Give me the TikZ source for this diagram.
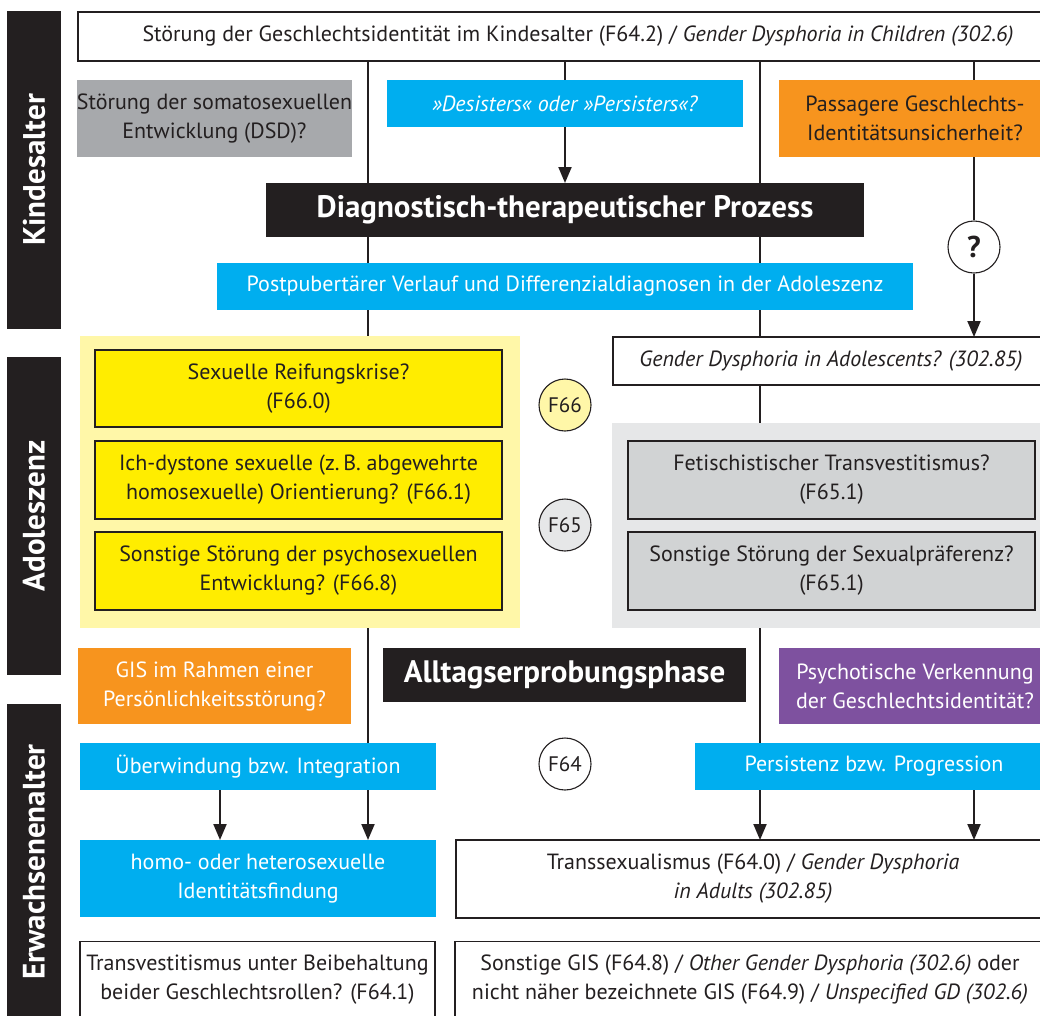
\documentclass[tikz,border=0pt]{standalone}
\usepackage{fontspec}
\setmainfont{PT Sans}
\usetikzlibrary{arrows.meta}
\definecolor{dk}{HTML}{231F20}
\definecolor{cy}{HTML}{00AEEF}
\definecolor{og}{HTML}{F7941E}
\definecolor{gr}{HTML}{A7A9AC}
\definecolor{pu}{HTML}{7E519F}
\definecolor{ye}{HTML}{FFED00}
\definecolor{ylt}{HTML}{FFF7A8}
\definecolor{glt}{HTML}{E6E7E8}
\definecolor{gmd}{HTML}{D1D3D4}
\pgfdeclarelayer{lines}
\pgfsetlayers{lines,main}
\begin{document}
\begin{tikzpicture}[x=1pt,y=-1pt,
  base/.style={inner sep=0pt, outer sep=0pt, align=center, font=\fontsize{22}{29}\selectfont, text=dk},
  sz/.style 2 args={minimum width=#1pt, minimum height=#2pt},
  wbox/.style={base, draw=dk, line width=1.1pt, fill=white},
  cbox/.style={base, fill=cy, text=white},
  obox/.style={base, fill=og},
  gbox/.style={base, fill=gr},
  pbox/.style={base, fill=pu, text=white},
  ybox/.style={base, draw=dk, line width=1.1pt, fill=ye},
  gmbox/.style={base, draw=dk, line width=1.1pt, fill=gmd},
  region/.style={inner sep=0pt, outer sep=0pt},
  blackbox/.style={base, fill=dk, text=white, font=\bfseries\fontsize{31}{34}\selectfont},
  side/.style={inner sep=0pt, outer sep=0pt, fill=dk, text=white, rotate=90, font=\bfseries\fontsize{31}{34}\selectfont, minimum height=54pt},
  circ/.style={circle, draw=dk, line width=1.1pt, minimum size=52pt, inner sep=0pt, font=\fontsize{21}{24}\selectfont, text=dk},
  conn/.style={draw=dk, line width=2pt},
  arr/.style={conn, -{Triangle[width=13pt,length=16pt]}}
]
\useasboundingbox (0,0) rectangle (1040,1015);
\clip (0,0) rectangle (1040,1015);

% side bars
\node[side, minimum width=318pt] (kind) at (34,170) {Kindesalter};
\node[side, minimum width=318pt] (adol) at (34,516) {Adoleszenz};
\node[side, minimum width=316pt] (erw) at (34,862) {Erwachsenenalter};

% background regions
\node[region, fill=ylt, sz={440}{292}] (ylreg) at (300,482) {};
\node[region, fill=glt, sz={438}{205}] (grreg) at (831,525.5) {};

% boxes
\node[wbox, sz={1000}{49}] (topbox) at (578,36.5) {Störung der Geschlechtsidentität im Kindesalter (F64.2) / \textit{Gender Dysphoria in Children (302.6)}};
\node[gbox, sz={273}{77}] (dsd) at (214.5,118.5) {Störung der somatosexuellen\\Entwicklung (DSD)?};
\node[cbox, sz={356}{47}] (desist) at (565,103.5) {\textit{»Desisters« oder »Persisters«?}};
\node[obox, sz={272}{77}] (passag) at (915,118.5) {Passagere Geschlechts-\\Identitätsunsicherheit?};
\node[blackbox, sz={598}{54}] (diag) at (565,210) {Diagnostisch-therapeutischer Prozess};
\node[circ, font=\bfseries\fontsize{30}{32}\selectfont, fill=white] (q) at (974,247) {?};
\node[cbox, sz={696}{47}] (post) at (565,286.5) {Postpubertärer Verlauf und Differenzialdiagnosen in der Adoleszenz};

\node[ybox, sz={407}{77}] (y1) at (298.5,388.5) {Sexuelle Reifungskrise?\\(F66.0)};
\node[ybox, sz={407}{78}] (y2) at (298.5,480) {Ich-dystone sexuelle (z.\,B. abgewehrte\\homosexuelle) Orientierung? (F66.1)};
\node[ybox, sz={407}{78}] (y3) at (298.5,571) {Sonstige Störung der psychosexuellen\\Entwicklung? (F66.8)};

\node[circ, fill=ylt] (f66) at (565,405) {F66};
\node[circ, fill=glt] (f65) at (565,525) {F65};
\node[circ, fill=white] (f64) at (565,764) {F64};

\node[wbox, sz={436}{48}] (gda) at (831,361) {\textit{Gender Dysphoria in Adolescents? (302.85)}};
\node[gmbox, sz={407}{78}] (g1) at (831.5,480) {Fetischistischer Transvestitismus?\\(F65.1)};
\node[gmbox, sz={407}{78}] (g2) at (831.5,571) {Sonstige Störung der Sexualpräferenz?\\(F65.1)};

\node[obox, text=white, sz={273}{76}] (gis) at (214.5,686) {GIS im Rahmen einer\\Persönlichkeitsstörung?};
\node[blackbox, sz={363}{54}] (allt) at (564.5,675) {Alltagserprobungsphase};
\node[pbox, sz={272}{76}] (psych) at (915,686) {Psychotische Verkennung\\der Geschlechtsidentität?};

\node[cbox, sz={356}{47}] (uber) at (258,766.5) {Überwindung bzw. Integration};
\node[cbox, sz={358}{47}] (pers) at (874,766.5) {Persistenz bzw. Progression};

\node[cbox, sz={356}{77}] (homo) at (258,878.5) {homo- oder heterosexuelle\\Identitätsfindung};
\node[wbox, sz={594}{78}] (trans) at (753,879) {Transsexualismus (F64.0) / \textit{Gender Dysphoria}\\\textit{in Adults (302.85)}};

\node[wbox, sz={355}{77}] (tv) at (257.5,980) {Transvestitismus unter Beibehaltung\\beider Geschlechtsrollen? (F64.1)};
\node[wbox, sz={590}{77}] (sonst) at (750,980) {Sonstige GIS (F64.8) / \textit{Other Gender Dysphoria (302.6)} oder\\nicht näher bezeichnete GIS (F64.9) / \textit{Unspecified GD (302.6)}};

% column coordinates
\coordinate (cA) at (368,0);
\coordinate (cB) at (760,0);
\coordinate (cC) at (974,0);
\coordinate (cD) at (220,0);

% lines behind boxes
\begin{pgfonlayer}{lines}
\draw[conn] (cA |- topbox.south) -- (cA |- uber.north);
\draw[conn] (desist.north |- topbox.south) -- (desist.north);
\draw[conn] (cB |- topbox.south) -- (cB |- pers.north);
\draw[conn] (cC |- topbox.south) -- (q.north);
\end{pgfonlayer}

% arrows
\draw[arr] (desist.south) -- (diag.north);
\draw[arr] (q.south) -- (cC |- gda.north);
\draw[arr] (cD |- uber.south) -- (cD |- homo.north);
\draw[arr] (cA |- uber.south) -- (cA |- homo.north);
\draw[arr] (cB |- pers.south) -- (cB |- trans.north);
\draw[arr] (cC |- pers.south) -- (cC |- trans.north);
\end{tikzpicture}
\end{document}
